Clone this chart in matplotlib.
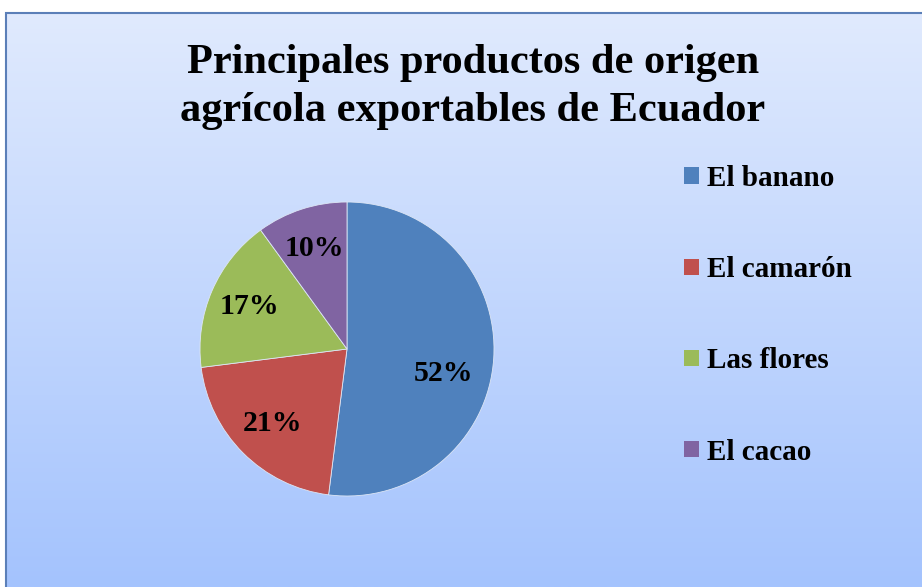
import numpy as np
import matplotlib
matplotlib.use('Agg')
import matplotlib.pyplot as plt
from matplotlib.patches import Rectangle, Patch

productos = ['El banano', 'El camarón', 'Las flores', 'El cacao']
porcentajes = [52, 21, 17, 10]
colores = ['#4f81bd', '#c0504d', '#9bbb59', '#8064a2']
titulo = 'Principales productos de origen\nagrícola exportables de Ecuador'

plt.rcParams['font.family'] = ['Liberation Serif', 'DejaVu Serif']
plt.rcParams['font.weight'] = 'bold'

W, H = 922, 587
fig = plt.figure(figsize=(W / 100, H / 100), dpi=100)
fig.patch.set_facecolor('white')

# gradient background inside the chart frame
x0, ytop = 6, 13
bg = fig.add_axes([x0 / W, 0, 1 - x0 / W, 1 - ytop / H])
bg.set_axis_off()
top = np.array([0xe0, 0xea, 0xfd]) / 255
bot = np.array([0xa4, 0xc3, 0xfe]) / 255
t = np.linspace(0, 1, 256)[:, None]
grad = top[None, :] * (1 - t) + bot[None, :] * t
bg.imshow(grad[:, None, :], aspect='auto', extent=[0, 1, 0, 1])
bg.set_xlim(0, 1)
bg.set_ylim(0, 1)
fig.add_artist(Rectangle((x0 / W, -0.01), 1.01, 1 - ytop / H + 0.01,
                         transform=fig.transFigure, fill=False,
                         edgecolor='#5b7fb8', linewidth=1.5))

# pie
cx, cy, r = 347, 349, 147
ax = fig.add_axes([(cx - r) / W, (H - cy - r) / H, 2 * r / W, 2 * r / H])
wedges, texts, autotexts = ax.pie(porcentajes, colors=colores, startangle=90,
                                  counterclock=False, autopct='%d%%',
                                  pctdistance=0.72,
                                  wedgeprops=dict(edgecolor='#dde6f5', linewidth=0.6),
                                  textprops=dict(fontsize=21.5, fontweight='bold', color='black'))
ax.set_xlim(-1, 1)
ax.set_ylim(-1, 1)
ax.set_aspect('equal')
# Excel moved the big label down a bit
ang = np.deg2rad(-14)
autotexts[0].set_position((0.68 * np.cos(ang), 0.68 * np.sin(ang)))

fig.text(473 / W, 1 - 44 / H, titulo, ha='center', va='top',
         fontsize=30.5, fontweight='bold', linespacing=1.35)

handles = [Patch(facecolor=c, edgecolor='none') for c in colores]
leg = fig.legend(handles, productos, loc='upper left',
                 bbox_to_anchor=(684 / W, 1 - 165 / H),
                 frameon=False, fontsize=21, labelspacing=2.2,
                 handlelength=0.5, handleheight=0.5, handletextpad=0.3,
                 borderpad=0, borderaxespad=0)
for txt in leg.get_texts():
    txt.set_fontweight('bold')

fig.savefig('out.png', dpi=100)
